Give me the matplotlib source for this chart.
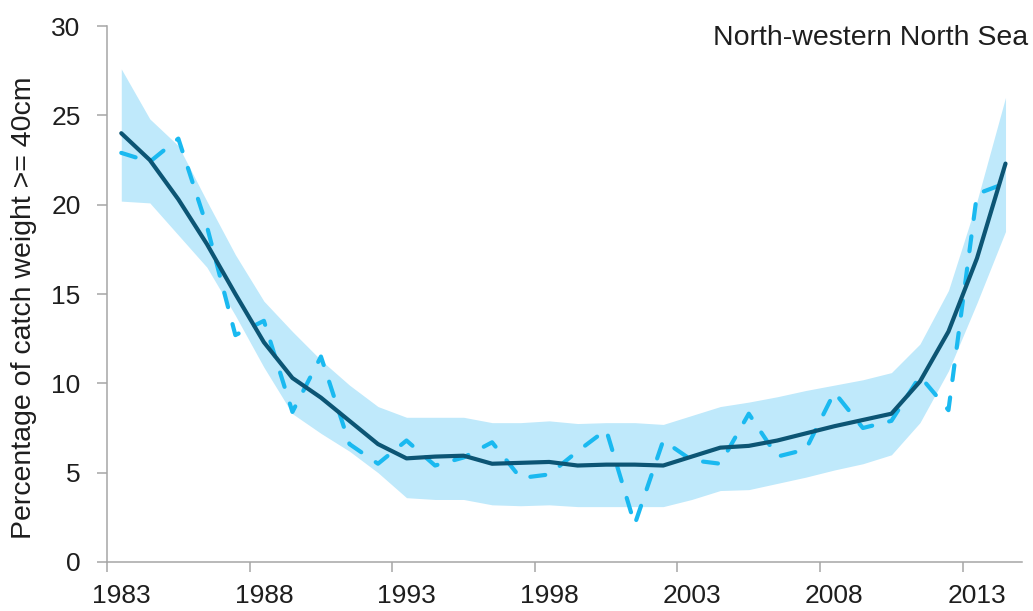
import matplotlib
matplotlib.use("Agg")
import matplotlib.pyplot as plt
import numpy as np

plt.rcParams['font.family'] = ['Liberation Sans', 'DejaVu Sans']

# Datos
anios = list(range(1983, 2015))
tendencia = [24.0, 22.5, 20.3, 17.8, 15.0, 12.3, 10.3, 9.2, 7.9, 6.6,
             5.8, 5.9, 5.95, 5.5, 5.55, 5.6, 5.4, 5.45, 5.45, 5.4,
             5.9, 6.4, 6.5, 6.8, 7.2, 7.6, 7.95, 8.3, 10.1, 12.9,
             17.0, 22.3]
banda_sup = [27.6, 24.8, 23.3, 20.2, 17.2, 14.6, 12.9, 11.3, 9.9, 8.7,
             8.1, 8.1, 8.1, 7.8, 7.8, 7.9, 7.75, 7.8, 7.8, 7.7,
             8.2, 8.7, 8.95, 9.25, 9.6, 9.9, 10.2, 10.6, 12.2, 15.2,
             20.2, 26.0]
banda_inf = [20.2, 20.1, 18.3, 16.5, 13.8, 10.9, 8.3, 7.2, 6.2, 5.0,
             3.6, 3.5, 3.5, 3.2, 3.15, 3.2, 3.1, 3.1, 3.1, 3.1,
             3.5, 4.0, 4.05, 4.4, 4.75, 5.15, 5.5, 6.0, 7.8, 10.7,
             14.5, 18.5]
observado = [22.9, 22.4, 23.7, 18.8, 12.7, 13.5, 8.4, 11.5, 6.6, 5.5,
             6.8, 5.4, 5.85, 6.7, 4.7, 4.9, 6.2, 7.4, 2.1, 6.8,
             5.7, 5.5, 8.3, 5.9, 6.3, 9.5, 7.5, 7.9, 10.4, 8.5,
             20.6, 21.2]
etiquetas_x = ['1983', '1988', '1993', '1998', '2003', '2008', '2013']
ticks_y = [0, 5, 10, 15, 20, 25, 30]

fig = plt.figure(figsize=(10.33, 6.11), dpi=100)
ax = fig.add_axes([0.1036, 0.0802, 0.8858, 0.8772])

ax.fill_between(anios, banda_inf, banda_sup, color='#bfe9fb', linewidth=0)
ax.plot(anios, observado, color='#1ab9f0', linewidth=3, linestyle=(0, (3.6, 4.2)),
        dash_capstyle='round')
ax.plot(anios, tendencia, color='#0c5574', linewidth=3, solid_capstyle='round')

ax.set_xlim(1982.5, 2014.58)
ax.set_ylim(0, 30)

# marcas entre categorias, etiquetas centradas en el anio
ax.set_xticks([int(e) - 0.5 for e in etiquetas_x])
ax.set_xticklabels([])
ax.set_xticks([int(e) for e in etiquetas_x], minor=True)
ax.set_xticklabels(etiquetas_x, minor=True)
ax.tick_params(axis='x', which='minor', length=0, pad=16, labelsize=19, colors='#1e1e1e')
ax.tick_params(axis='x', which='major', length=7, width=1.1, color='#a6a6a6')

ax.set_yticks(ticks_y)
ax.tick_params(axis='y', length=7, width=1.1, color='#a6a6a6', pad=12,
               labelsize=19, labelcolor='#1e1e1e')

for lado in ['top', 'right']:
    ax.spines[lado].set_visible(False)
for lado in ['left', 'bottom']:
    ax.spines[lado].set_color('#a6a6a6')
    ax.spines[lado].set_linewidth(1.1)

ax.set_ylabel('Percentage of catch weight >= 40cm', fontsize=20.5, color='#1e1e1e')
ax.yaxis.set_label_coords(-0.076, 0.475)

fig.text(0.995, 1 - 38 / 611, 'North-western North Sea', ha='right', va='center',
         fontsize=20.5, color='#1e1e1e')

fig.savefig('out.png', dpi=100)
